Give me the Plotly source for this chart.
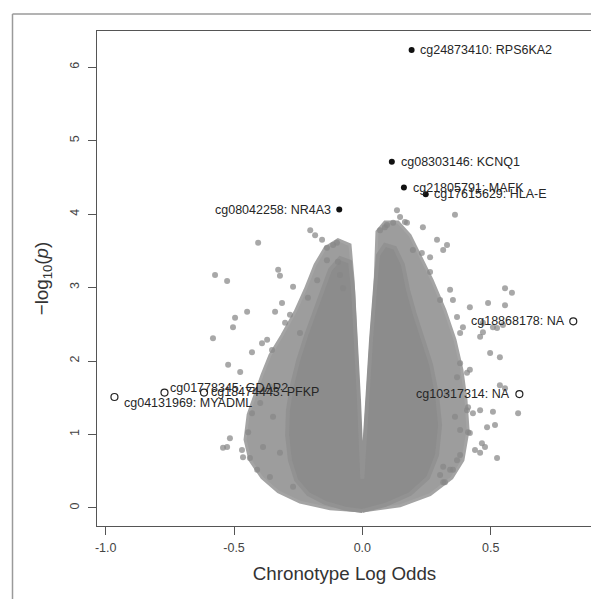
import plotly.graph_objects as go

# ---------------- data ----------------
# outline of the dense core of the point cloud (log odds, -log10 p)
core_x = [0.0, -0.066, -0.145, -0.211, -0.258, -0.282, -0.293, -0.290, -0.274, -0.250,
          -0.219, -0.184, -0.157, -0.126, -0.087, -0.048, -0.036, -0.025, -0.013, -0.005,
          0.0, 0.007, 0.018, 0.034, 0.049, 0.061, 0.088, 0.127, 0.158, 0.178,
          0.205, 0.236, 0.268, 0.291, 0.303, 0.291, 0.256, 0.186, 0.088, 0.0]
core_y = [-0.04, -0.01, 0.07, 0.19, 0.38, 0.65, 0.99, 1.33, 1.67, 2.01,
          2.35, 2.69, 2.97, 3.24, 3.40, 3.35, 2.97, 2.29, 1.47, 0.79,
          0.40, 0.79, 1.47, 2.29, 2.97, 3.44, 3.58, 3.54, 3.31, 2.97,
          2.63, 2.29, 1.95, 1.54, 1.13, 0.72, 0.41, 0.19, 0.04, -0.04]

# outline of the less dense halo around the core
halo_x = [0.0, -0.126, -0.243, -0.328, -0.391, -0.438, -0.457, -0.445, -0.418, -0.391,
          -0.360, -0.313, -0.262, -0.223, -0.184, -0.145, -0.095, -0.048, -0.036, -0.025,
          -0.013, -0.005, 0.0, 0.007, 0.018, 0.034, 0.049, 0.057, 0.088, 0.139,
          0.186, 0.225, 0.272, 0.322, 0.361, 0.388, 0.404, 0.412, 0.392, 0.349,
          0.264, 0.147, 0.0]
halo_y = [-0.04, -0.01, 0.08, 0.22, 0.41, 0.65, 0.93, 1.27, 1.54, 1.81,
          2.08, 2.35, 2.67, 2.97, 3.31, 3.54, 3.65, 3.58, 3.10, 2.29,
          1.47, 0.79, 0.40, 0.79, 1.47, 2.29, 2.97, 3.76, 3.89, 3.89,
          3.71, 3.44, 3.10, 2.69, 2.29, 1.88, 1.47, 1.06, 0.65, 0.41,
          0.18, 0.03, -0.04]

# individual CpG sites outside the dense cloud
site_x = [-0.203, -0.184, -0.157, -0.114, -0.099, -0.406, -0.138, -0.328, -0.321, -0.138,
          -0.095, -0.574, -0.527, -0.270, -0.176, -0.087, -0.075, -0.212, -0.313, -0.449,
          -0.340, -0.282, -0.496, -0.504, -0.582, -0.391, -0.430, -0.352, -0.301, -0.243,
          -0.523, -0.476, -0.371, -0.527, -0.543, -0.516, -0.469, -0.465, -0.410, -0.387,
          -0.445, -0.430, -0.398, -0.360, -0.348, -0.321, -0.270, -0.360, -0.438,
          0.135, 0.147, 0.069, 0.088, 0.174, 0.236, 0.361, 0.291, 0.330, 0.315,
          0.096, 0.120, 0.166, 0.197, 0.232, 0.264, 0.264, 0.342, 0.419, 0.303,
          0.353, 0.490, 0.556, 0.583, 0.556, 0.369, 0.470, 0.509, 0.548, 0.392,
          0.381, 0.459, 0.498, 0.536, 0.470, 0.525, 0.419, 0.369, 0.536, 0.556,
          0.607, 0.509, 0.459, 0.412, 0.486, 0.412, 0.466, 0.459, 0.525, 0.381,
          0.369, 0.315, 0.353, 0.315, 0.517, 0.478, 0.439, 0.342, 0.303, 0.322,
          0.419, 0.381, 0.408, 0.431, 0.361, 0.330, 0.381, 0.408]
site_y = [3.78, 3.71, 3.65, 3.58, 3.61, 3.61, 3.54, 3.24, 3.16, 3.37,
          3.35, 3.17, 3.09, 3.01, 3.10, 3.17, 2.99, 2.86, 2.79, 2.67,
          2.67, 2.63, 2.59, 2.46, 2.31, 2.24, 2.12, 2.15, 2.52, 2.38,
          1.95, 1.85, 2.29, 0.83, 0.82, 0.95, 0.79, 0.69, 0.52, 0.83,
          1.03, 1.29, 1.43, 1.65, 1.24, 0.75, 0.29, 0.42, 0.68,
          4.05, 3.96, 3.78, 3.82, 3.88, 3.82, 3.99, 3.65, 3.58, 3.51,
          3.85, 3.88, 3.89, 3.51, 3.47, 3.41, 3.21, 2.97, 2.73, 2.83,
          2.83, 2.79, 2.99, 2.93, 2.76, 2.60, 2.52, 2.46, 2.49, 2.46,
          2.38, 2.33, 2.11, 2.05, 2.39, 2.45, 1.88, 1.78, 1.67, 1.63,
          1.29, 1.31, 1.33, 1.37, 1.10, 1.03, 0.88, 0.75, 0.68, 0.72,
          0.65, 0.56, 0.52, 0.35, 1.13, 0.83, 0.79, 0.52, 0.45, 0.35,
          1.02, 1.06, 1.33, 1.29, 1.24, 1.56, 1.97, 1.84]

# highlighted hits (filled) and annotated sites (open)
hit_labels = ["cg24873410: RPS6KA2", "cg08303146: KCNQ1", "cg21805791: MAFK",
              "cg17615629: HLA-E", "cg08042258: NR4A3"]
hit_x = [0.192, 0.115, 0.162, 0.247, -0.090]
hit_y = [6.23, 4.71, 4.36, 4.27, 4.06]

open_labels = ["cg18868178: NA", "cg10317314: NA", "cg01778345: GDAP2",
               "cg18474443: PFKP", "cg04131969: MYADML"]
open_x = [0.822, 0.612, -0.771, -0.617, -0.966]
open_y = [2.54, 1.55, 1.57, 1.57, 1.51]

x_tick_vals = [-1.0, -0.5, 0.0, 0.5]
x_tick_text = ["-1.0", "-0.5", "0.0", "0.5"]
y_tick_vals = [0, 1, 2, 3, 4, 5, 6]
y_tick_text = ["0", "1", "2", "3", "4", "5", "6"]

# ---------------- styling ----------------
FONT = "Liberation Sans, Arial, Helvetica, sans-serif"
# (xanchor, xshift, yshift) for each label
hit_label_pos = [("left", 6, 0), ("left", 7, 0), ("left", 7, 0), ("left", 6, 0), ("right", -6, 0)]
open_label_pos = [("right", -6, 0), ("right", -7, 0), ("left", 4, 5), ("left", 5, 1), ("left", 8, -6)]

fig = go.Figure()

fig.add_trace(go.Scatter(x=halo_x, y=halo_y, mode="lines", fill="toself",
                         fillcolor="#9d9d9d", line=dict(color="#a4a4a4", width=3),
                         hoverinfo="skip", showlegend=False))
fig.add_trace(go.Scatter(x=core_x, y=core_y, mode="lines", fill="toself",
                         fillcolor="#8c8c8c", line=dict(color="#929292", width=4),
                         hoverinfo="skip", showlegend=False))
fig.add_trace(go.Scatter(x=site_x, y=site_y, mode="markers",
                         marker=dict(size=6, color="rgba(135,135,135,0.72)", line=dict(width=0)),
                         showlegend=False))
fig.add_trace(go.Scatter(x=hit_x, y=hit_y, mode="markers",
                         marker=dict(size=6, color="#111111", line=dict(width=0)),
                         showlegend=False))
fig.add_trace(go.Scatter(x=open_x, y=open_y, mode="markers",
                         marker=dict(size=7, symbol="circle-open", color="#222222",
                                     line=dict(width=1.2)),
                         showlegend=False))

for lab, xx, yy, (anc, xs, ys) in zip(hit_labels + open_labels, hit_x + open_x,
                                      hit_y + open_y, hit_label_pos + open_label_pos):
    fig.add_annotation(x=xx, y=yy, text=lab, showarrow=False, xanchor=anc, yanchor="middle",
                       xshift=xs, yshift=ys, font=dict(family=FONT, size=12.5, color="#262626"))

# outer frame of the figure (top and left edges visible)
fig.add_shape(type="line", xref="paper", yref="paper", x0=-0.1707, x1=1.2, y0=1.0343, y1=1.0343,
              line=dict(color="#9a9a9a", width=1.5))
fig.add_shape(type="line", xref="paper", yref="paper", x0=-0.1707, x1=-0.1707, y0=1.0343, y1=-0.3,
              line=dict(color="#9a9a9a", width=1.5))

# the page body adds an 8 px offset, so the figure is 591 px and margins are reduced by 8
fig.update_layout(
    width=591, height=591,
    margin=dict(l=89, r=7, t=23, b=73),
    paper_bgcolor="white", plot_bgcolor="white",
    font=dict(family=FONT, color="#3a3a3a"),
    showlegend=False,
)
fig.update_xaxes(range=[-1.034, 0.895], tickvals=x_tick_vals, ticktext=x_tick_text,
                 showgrid=False, zeroline=False, showline=True, mirror=True,
                 linecolor="#555555", linewidth=1.3, ticks="outside", ticklen=8,
                 tickcolor="#555555", tickfont=dict(size=12.5, color="#444444"),
                 ticklabelstandoff=2,
                 title=dict(text="Chronotype Log Odds", font=dict(size=18.75, color="#333333"),
                            standoff=12))
fig.update_yaxes(range=[-0.245, 6.49], tickvals=y_tick_vals, ticktext=y_tick_text,
                 showgrid=False, zeroline=False, showline=True, mirror=True,
                 linecolor="#555555", linewidth=1.3, ticks="outside", ticklen=8,
                 tickcolor="#555555", tickangle=-90, tickfont=dict(size=12.5, color="#444444"),
                 ticklabelstandoff=4,
                 title=dict(text="\u2212log<sub>10</sub>(<i>p</i>)",
                            font=dict(size=18.75, color="#333333"), standoff=14))

fig.write_html("out.html")
